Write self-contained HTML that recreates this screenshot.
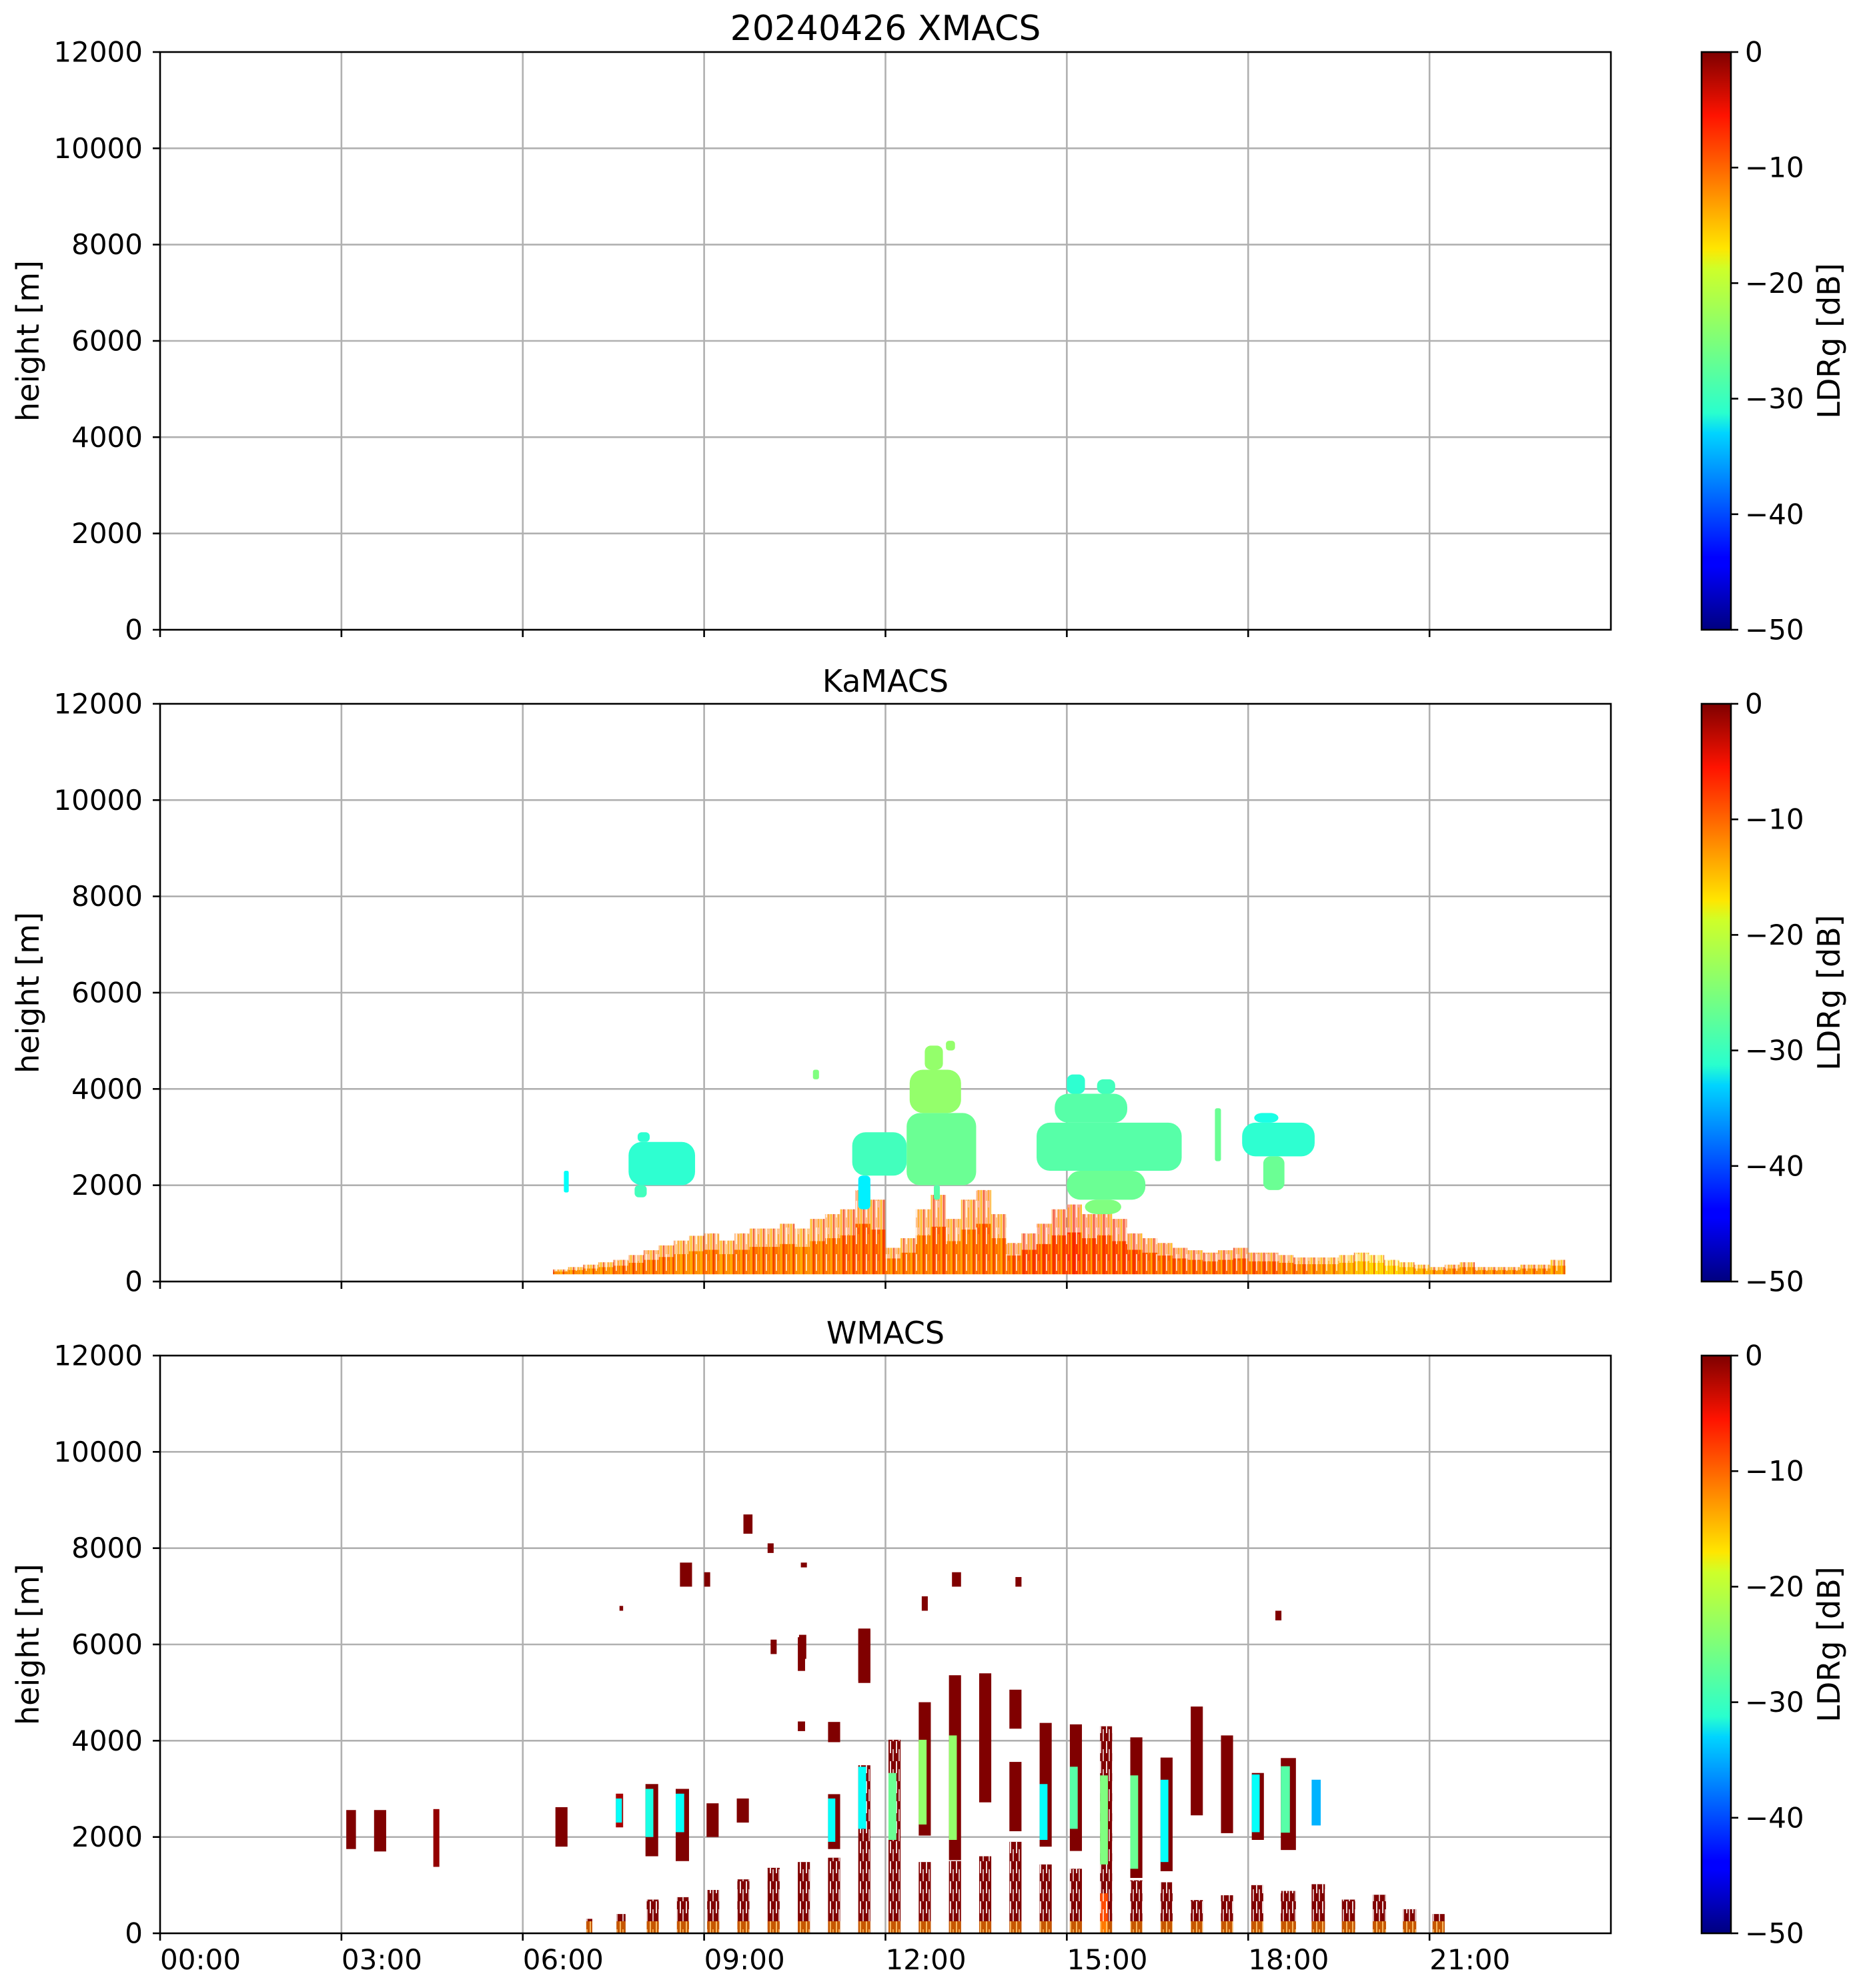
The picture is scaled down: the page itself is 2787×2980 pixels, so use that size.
<!DOCTYPE html>
<html><head><meta charset="utf-8">
<style>
html,body{margin:0;padding:0;background:#fff;}
svg{display:block;font-family:"DejaVu Sans","Liberation Sans",sans-serif;}
</style></head>
<body>
<svg id="fig" xmlns="http://www.w3.org/2000/svg" width="2787" height="2980" viewBox="0 0 2787 2980">
<defs>
<linearGradient id="jetGrad" x1="0" y1="1" x2="0" y2="0">
<stop offset="0" stop-color="#00007f"/><stop offset="0.11" stop-color="#0000ff"/><stop offset="0.125" stop-color="#0000ff"/>
<stop offset="0.34" stop-color="#00d4ff"/><stop offset="0.375" stop-color="#29ffce"/><stop offset="0.5" stop-color="#7dff7a"/>
<stop offset="0.625" stop-color="#ceff29"/><stop offset="0.66" stop-color="#ffe600"/><stop offset="0.89" stop-color="#ff1300"/>
<stop offset="1" stop-color="#7f0000"/>
</linearGradient>
<pattern id="blTex" width="15" height="40" patternUnits="userSpaceOnUse">
<rect x="0" y="0" width="2" height="40" fill="#ffd000" opacity="0.7"/>
<rect x="4" y="0" width="2" height="40" fill="#e00000" opacity="0.5"/>
<rect x="8" y="0" width="2" height="25" fill="#ffffff" opacity="0.7"/>
<rect x="11" y="10" width="2" height="30" fill="#ffa000" opacity="0.6"/>
</pattern>
<pattern id="wTex" width="9" height="30" patternUnits="userSpaceOnUse">
<rect x="2" y="0" width="2" height="18" fill="#ffffff" opacity="0.85"/>
<rect x="6" y="12" width="2" height="18" fill="#ffffff" opacity="0.7"/>
</pattern>
</defs>
<g id="layer"></g>
</svg>
<script>
// ---------- data ----------
const hourTicks = [0,3,6,9,12,15,18,21];
const hourTickLabels = ["00:00","03:00","06:00","09:00","12:00","15:00","18:00","21:00"];
const heightTicks = [0,2000,4000,6000,8000,10000,12000];
const cbTicks = [0,-10,-20,-30,-40,-50];
const panelTitles = ["20240426 XMACS","KaMACS","WMACS"];

// KaMACS boundary layer: column start hour, top height (m), LDR (dB)
const blHour = [6.5,6.75,7.0,7.25,7.5,7.75,8.0,8.25,8.5,8.75,9.0,9.25,9.5,9.75,10.0,10.25,10.5,10.75,11.0,11.25,11.5,11.75,12.0,12.25,12.5,12.75,13.0,13.25,13.5,13.75,14.0,14.25,14.5,14.75,15.0,15.25,15.5,15.75,16.0,16.25,16.5,16.75,17.0,17.25,17.5,17.75,18.0,18.25,18.5,18.75,19.0,19.25,19.5,19.75,20.0,20.25,20.5,20.75,21.0,21.25,21.5,21.75,22.0,22.5,23.0];
const blTop  = [250,300,350,400,450,550,650,750,850,950,1000,850,1000,1100,1100,1200,1100,1300,1400,1500,1900,1700,700,900,1500,1800,1300,1700,1900,1400,800,1000,1200,1500,1600,1400,1500,1300,1000,900,800,700,650,600,650,700,600,600,550,500,500,500,550,600,550,450,400,350,300,350,400,300,300,350,450];
const blVal  = [-13,-13,-13,-13,-12,-12,-12,-12,-13,-13,-12,-13,-12,-12,-12,-12,-13,-12,-12,-11,-11,-11,-12,-12,-12,-11,-12,-12,-11,-12,-11,-10,-10,-10,-9,-10,-10,-10,-10,-11,-11,-11,-11,-11,-11,-11,-11,-11,-12,-12,-13,-14,-15,-16,-17,-17,-16,-15,-14,-13,-13,-13,-13,-13,-14];

// KaMACS cloud bands: start hour, end hour, base (m), top (m), LDR (dB)
const kaStart = [6.68,7.75,7.9,7.85,11.45,11.55,12.35,12.4,12.65,13.0,12.8,14.5,14.8,15.0,15.5,15.0,15.3,17.9,18.25,18.1,17.45,10.8];
const kaEnd   = [6.76,8.85,8.1,8.05,12.35,11.75,13.5,13.25,12.95,13.15,12.9,16.9,16.0,15.3,15.8,16.3,15.9,19.1,18.6,18.5,17.55,10.9];
const kaBase  = [1850,2000,2900,1750,2200,1500,2000,3500,4400,4800,1700,2300,3300,3900,3900,1700,1400,2600,1900,3300,2500,4200];
const kaTop   = [2300,2900,3100,2000,3100,2200,3500,4400,4900,5000,2000,3300,3900,4300,4200,2300,1700,3300,2600,3500,3600,4400];
const kaVal   = [-31,-29,-29,-28,-28,-32,-26,-24,-24,-24,-27,-27,-27,-29,-28,-26,-25,-29,-26,-30,-26,-25];

// WMACS segments: start hour, width (h), base (m), top (m), LDR (dB)
const wStart = [3.08,3.54,4.52,6.54,7.54,7.54,8.03,8.03,8.53,8.53,9.04,9.54,10.55,10.55,11.05,11.05,11.05,11.55,11.55,11.55,11.55,12.05,12.05,12.55,12.55,13.05,13.05,13.55,13.55,14.05,14.05,14.05,14.55,14.55,15.05,15.05,15.55,15.55,15.55,16.05,16.05,16.55,16.55,17.05,17.55,18.06,18.06,18.54,18.54,19.05,7.05,7.55,8.05,8.55,9.05,9.55,10.05,10.55,11.05,12.55,13.05,14.55,15.05,16.05,16.55,17.05,17.55,18.05,18.54,19.05,19.55,20.06,20.56,21.05,8.6,9.0,9.65,10.05,10.6,13.1,14.15,18.45,7.6,10.1,10.57,12.6];
const wWidth = [0.16,0.2,0.1,0.2,0.12,0.1,0.21,0.13,0.22,0.14,0.2,0.2,0.12,0.12,0.2,0.2,0.12,0.2,0.2,0.13,0.2,0.2,0.13,0.2,0.13,0.2,0.13,0.2,0.2,0.2,0.2,0.2,0.2,0.13,0.2,0.13,0.2,0.13,0.13,0.2,0.13,0.2,0.13,0.2,0.2,0.2,0.13,0.25,0.15,0.15,0.1,0.15,0.2,0.2,0.2,0.2,0.2,0.2,0.2,0.2,0.2,0.2,0.2,0.2,0.2,0.2,0.2,0.2,0.25,0.22,0.22,0.22,0.22,0.2,0.2,0.1,0.15,0.1,0.1,0.15,0.1,0.1,0.06,0.1,0.12,0.1];
const wBase  = [1750,1700,1380,1800,2200,2300,1600,2000,1500,2100,2000,2300,5450,4200,1750,3970,1900,0,5200,2170,5250,0,1940,2030,2260,1520,1940,2720,0,4250,2120,0,1800,1940,1710,2170,0,1430,0,1150,1340,1290,1480,2450,2080,1940,2100,1730,2090,2240,0,0,0,0,0,0,0,0,0,0,0,0,0,0,0,0,0,0,0,0,0,0,0,0,7200,7200,8300,7900,7600,7200,7200,6500,6700,5800,5700,6700];
const wTop   = [2560,2560,2580,2620,2900,2800,3100,3000,3000,2900,2700,2800,6150,4400,2890,4390,2800,3490,6330,3460,6300,4020,3330,4800,4020,5360,4110,5400,1600,5060,3560,1900,4370,3100,4340,3460,4300,3280,830,4070,3280,3650,3190,4710,4110,3330,3300,3640,3470,3190,300,400,700,750,900,1120,1360,1480,1570,1480,1500,1430,1340,1100,1060,690,790,1000,880,1020,700,800,500,400,7700,7500,8700,8100,7700,7500,7400,6700,6800,6100,6200,7000];
const wVal   = [0,0,-1,0,-2,-31,0,-30,0,-31,0,0,0,0,0,0,-31,0,0,-31,0,0,-26,0,-24,0,-24,0,0,0,0,0,0,-31,0,-27,0,-25,-10,0,-26,0,-31,0,0,0,-31,0,-27,-35,0,0,0,0,0,0,0,0,0,0,0,0,0,0,0,0,0,0,0,0,0,0,0,0,0,0,0,0,0,0,0,0,0,0,0,0];

// ---------- layout ----------
const X0 = 240, X1 = 2415;
const panelTop = [78, 1055, 2032];
const PH = 866;
const CBX = 2551, CBW = 44;
const NS = "http://www.w3.org/2000/svg";
const layer = document.getElementById('layer');

function xScale(h){ return X0 + h/24*(X1-X0); }
function yScale(p, m){ return panelTop[p] + PH - m/12000*PH; }
function jet(v){
  const n = Math.max(0, Math.min(1, (v+50)/50));
  const c = t => Math.round(255*Math.max(0, Math.min(1, t)));
  const r = c(1.5-Math.abs(4*n-3)), g = c(1.5-Math.abs(4*n-2)), b = c(1.5-Math.abs(4*n-1));
  return `rgb(${r},${g},${b})`;
}
function mk(tag, attrs, parent){
  const el = document.createElementNS(NS, tag);
  for (const k in attrs) el.setAttribute(k, attrs[k]);
  (parent||layer).appendChild(el);
  return el;
}
function txt(s, attrs, parent){ const t = mk('text', attrs, parent); t.textContent = s; return t; }

const panelNames = ['xmacs','kamacs','wmacs'];
for (let p=0; p<3; p++){
  const g = mk('g', {});
  
  
  const top = panelTop[p], bot = top+PH;
  const grid = mk('g', {}, g);
  
  
  hourTicks.forEach(h => { if (h>0) { const l = mk('line', {x1:xScale(h), x2:xScale(h), y1:top, y2:bot, stroke:'#b0b0b0', 'stroke-width':2.6}, grid);   }});
  heightTicks.forEach(m => { if (m>0 && m<12000) { const l = mk('line', {x1:X0, x2:X1, y1:yScale(p,m), y2:yScale(p,m), stroke:'#b0b0b0', 'stroke-width':2.6}, grid);   }});
  const dg = mk('g', {}, g);
  
  
  if (p===1){
    for (let i=0;i<blHour.length;i++){
      const w = (i<blHour.length-1 ? blHour[i+1]-blHour[i] : 0.25);
      const xa = xScale(blHour[i]), xb = xScale(blHour[i]+w);
      const yt = yScale(1, blTop[i]), yb = yScale(1, 150), ym = yScale(1, 150 + (blTop[i]-150)*0.6);
      const r1 = mk('rect', {x:xa, y:ym, width:xb-xa, height:yb-ym, fill:jet(blVal[i])}, dg);
      
      
      const r2 = mk('rect', {x:xa, y:yt, width:xb-xa, height:ym-yt, fill:jet(blVal[i]), opacity:0.45}, dg);
      
      
      mk('rect', {x:xa, y:yt, width:xb-xa, height:yb-yt, fill:'url(#blTex)'}, dg);
    }
    for (let i=0;i<kaStart.length;i++){
      const xa = xScale(kaStart[i]), xb = xScale(kaEnd[i]);
      const yt = yScale(1, kaTop[i]), yb = yScale(1, kaBase[i]);
      const r = mk('rect', {x:xa, y:yt, width:xb-xa, height:yb-yt, fill:jet(kaVal[i]), rx:Math.min(20,(xb-xa)/3)}, dg);
      
      
    }
  }
  if (p===2){
    for (let i=0;i<wStart.length;i++){
      const xa = xScale(wStart[i]), xb = xScale(wStart[i]+wWidth[i]);
      const yt = yScale(2, wTop[i]), yb = yScale(2, wBase[i]);
      const r = mk('rect', {x:xa, y:yt, width:xb-xa, height:yb-yt, fill:jet(wVal[i])}, dg);
      
      
      if (wBase[i]===0){
        mk('rect', {x:xa, y:yt, width:xb-xa, height:yb-yt, fill:'url(#wTex)'}, dg);
        const yy = yScale(2, 250);
        const r3 = mk('rect', {x:xa, y:yy, width:xb-xa, height:yb-yy, fill:jet(-14), opacity:0.55}, dg);
        
        
      }
    }
  }
  const fr = mk('rect', {x:X0, y:top, width:X1-X0, height:PH, fill:'none', stroke:'#000', 'stroke-width':2.6}, g);
  
  
  heightTicks.forEach(m => {
    const y = yScale(p,m);
    mk('line', {x1:X0-11, x2:X0, y1:y, y2:y, stroke:'#000', 'stroke-width':2.6}, g);
    const t = txt(String(m), {x:214, y:y, 'text-anchor':'end', 'dominant-baseline':'central', 'font-size':42}, g);
    
    
  });
  hourTicks.forEach((h,k) => {
    const x = xScale(h);
    mk('line', {x1:x, x2:x, y1:bot, y2:bot+11, stroke:'#000', 'stroke-width':2.6}, g);
    if (p===2){
      const t = txt(hourTickLabels[k], {x:x, y:2952, 'font-size':42}, g);
      
      
    }
  });
  const cy = top+PH/2;
  const yl = txt('height [m]', {x:42, y:cy, transform:`rotate(-90 42 ${cy})`, 'text-anchor':'middle', 'dominant-baseline':'central', 'font-size':46}, g);
  
  
  const tt = txt(panelTitles[p], {x:(X0+X1)/2, y: top-18, 'text-anchor':'middle', 'font-size': p===0?52:46}, g);
  
  
  const cb = mk('g', {}, g);
  
  
  mk('rect', {x:CBX, y:top, width:CBW, height:PH, fill:'url(#jetGrad)', stroke:'#000', 'stroke-width':2.6}, cb);
  cbTicks.forEach(v => {
    const y = top + (-v)/50*PH;
    mk('line', {x1:CBX+CBW, x2:CBX+CBW+11, y1:y, y2:y, stroke:'#000', 'stroke-width':2.6}, cb);
    const t = txt(v<0 ? '\u2212'+(-v) : String(v), {x:2616, y:y, 'dominant-baseline':'central', 'font-size':42}, cb);
    
    
  });
  const lx = 2742;
  const cl = txt('LDRg [dB]', {x:lx, y:cy, transform:`rotate(-90 ${lx} ${cy})`, 'text-anchor':'middle', 'dominant-baseline':'central', 'font-size':46}, cb);
  
  
}
</script>
</body></html>
